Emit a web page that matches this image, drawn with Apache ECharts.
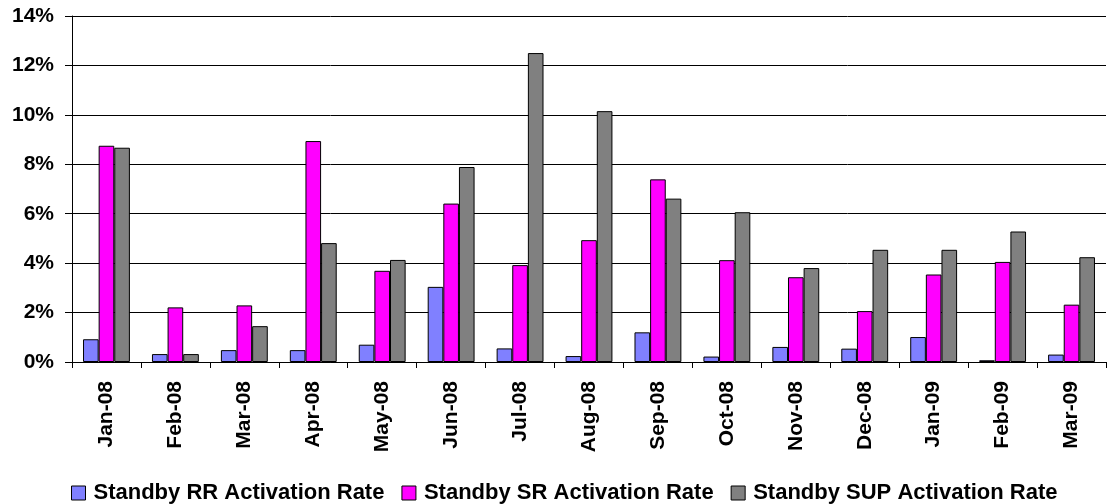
<!DOCTYPE html>
<html>
<head>
<meta charset="utf-8">
<script src="https://cdn.jsdelivr.net/npm/echarts@6/dist/echarts.min.js"></script>
<style>
  html, body { margin: 0; padding: 0; background: #fff; }
  #chart { width: 1108px; height: 504px; }
</style>
</head>
<body>
<div id="chart"></div>
<script>
// Monthly standby activation rates (percent)
const months = ['Jan-08', 'Feb-08', 'Mar-08', 'Apr-08', 'May-08', 'Jun-08', 'Jul-08', 'Aug-08',
  'Sep-08', 'Oct-08', 'Nov-08', 'Dec-08', 'Jan-09', 'Feb-09', 'Mar-09'];
const rrRate  = [0.92, 0.32, 0.48, 0.48, 0.70, 3.04, 0.55, 0.24, 1.20, 0.22, 0.61, 0.54, 1.01, 0.07, 0.30];
const srRate  = [8.75, 2.21, 2.29, 8.94, 3.69, 6.41, 3.92, 4.93, 7.39, 4.12, 3.43, 2.06, 3.54, 4.05, 2.32];
const supRate = [8.67, 0.32, 1.45, 4.81, 4.13, 7.89, 12.50, 10.15, 6.61, 6.06, 3.80, 4.54, 4.54, 5.28, 4.24];
const seriesNames = ['Standby RR Activation Rate', 'Standby SR Activation Rate', 'Standby SUP Activation Rate'];
const seriesColors = ['#8080FF', '#FF00FF', '#808080'];

const font = '"Liberation Sans", Arial, sans-serif';
const chart = echarts.init(document.getElementById('chart'), null, { renderer: 'canvas' });

const makeBar = (name, data, color) => ({
  name: name,
  type: 'bar',
  data: data,
  barGap: '0%',
  barCategoryGap: '32%',
  itemStyle: { color: color, borderColor: '#000', borderWidth: 1 },
  emphasis: { disabled: true }
});

chart.setOption({
  animation: false,
  backgroundColor: '#fff',
  textStyle: { fontFamily: font },
  grid: { left: 72, right: 2, top: 16, bottom: 142, containLabel: false },
  legend: {
    left: 66,
    top: 477,
    itemWidth: 14,
    itemHeight: 14,
    itemGap: 17,
    icon: 'rect',
    selectedMode: false,
    textStyle: { fontFamily: font, fontSize: 22, fontWeight: 'bold', color: '#000', padding: [0, 0, 0, 3] },
    itemStyle: { borderColor: '#000', borderWidth: 1 },
    data: seriesNames
  },
  xAxis: {
    type: 'category',
    data: months,
    boundaryGap: true,
    axisLine: { lineStyle: { color: '#000', width: 1 } },
    axisTick: { show: true, length: 6, alignWithLabel: false, lineStyle: { color: '#000' } },
    axisLabel: {
      rotate: 90,
      interval: 0,
      margin: 19,
      fontFamily: font,
      fontSize: 21,
      fontWeight: 'bold',
      color: '#000'
    }
  },
  yAxis: {
    type: 'value',
    min: 0,
    max: 14,
    interval: 2,
    axisLine: { show: true, lineStyle: { color: '#000', width: 1 } },
    axisTick: { show: true, inside: false, length: 7, lineStyle: { color: '#000' } },
    splitLine: { show: true, lineStyle: { color: '#000', width: 1 } },
    axisLabel: {
      formatter: '{value}%',
      margin: 18,
      fontFamily: font,
      fontSize: 21,
      fontWeight: 'bold',
      color: '#000'
    }
  },
  series: [
    makeBar(seriesNames[0], rrRate, seriesColors[0]),
    makeBar(seriesNames[1], srRate, seriesColors[1]),
    makeBar(seriesNames[2], supRate, seriesColors[2])
  ]
});
</script>
</body>
</html>
